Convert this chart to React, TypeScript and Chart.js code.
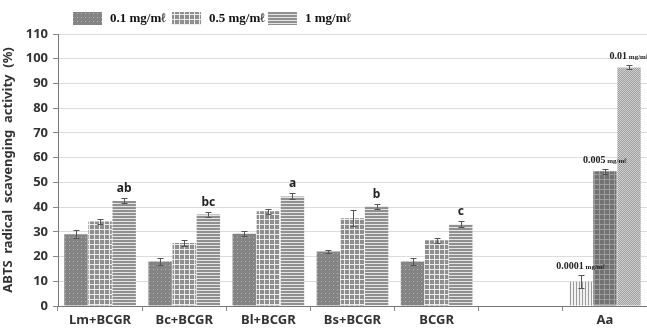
import React, { useEffect, useRef } from "react";
import { Chart, registerables } from "chart.js";
Chart.register(...registerables);

const categories = ["Lm+BCGR", "Bc+BCGR", "Bl+BCGR", "Bs+BCGR", "BCGR", "", "Aa"];
const seriesNames = ["0.1 mg/mℓ", "0.5 mg/mℓ", "1 mg/mℓ"];
const values01 = [29, 18, 29.2, 22, 18, null, 9.8];
const values05 = [34.2, 25.5, 38.3, 35.5, 26.6, null, 54.5];
const values1 = [42.5, 37, 44.3, 40.3, 33, null, 96.5];
const errors01 = [1.7, 1.5, 1, 0.7, 1.5, 0, 2.6];
const errors05 = [1, 1.2, 1, 3.3, 1, 0, 1];
const errors1 = [1, 1, 1.2, 1, 1.2, 0, 0.8];
const letters = ["ab", "bc", "a", "b", "c", "", ""];
const aaLabels = ["0.0001", "0.005", "0.01"];

function makePattern(w: number, h: number, draw: (c: CanvasRenderingContext2D) => void) {
  const cv = document.createElement("canvas");
  cv.width = w;
  cv.height = h;
  const c = cv.getContext("2d")!;
  draw(c);
  return c.createPattern(cv, "repeat")!;
}

export default function App() {
  const ref = useRef<HTMLCanvasElement>(null);
  useEffect(() => {
    const pDots = makePattern(4, 4, (c) => {
      c.fillStyle = "#848484";
      c.fillRect(0, 0, 4, 4);
      c.fillStyle = "#b8b8b8";
      c.fillRect(1, 1, 1, 1);
    });
    const pGrid = makePattern(5, 5, (c) => {
      c.fillStyle = "#8e8e8e";
      c.fillRect(0, 0, 5, 5);
      c.fillStyle = "#ececec";
      c.fillRect(4, 0, 1, 5);
      c.fillRect(0, 4, 5, 1);
    });
    const pH = makePattern(1, 3, (c) => {
      c.fillStyle = "#909090";
      c.fillRect(0, 0, 1, 2);
      c.fillStyle = "#e4e4e4";
      c.fillRect(0, 2, 1, 1);
    });
    const pV = makePattern(3, 1, (c) => {
      c.fillStyle = "#f2f2f2";
      c.fillRect(0, 0, 3, 1);
      c.fillStyle = "#9a9a9a";
      c.fillRect(0, 0, 1, 1);
    });
    const pGridDark = makePattern(5, 5, (c) => {
      c.fillStyle = "#727272";
      c.fillRect(0, 0, 5, 5);
      c.fillStyle = "#9c9c9c";
      c.fillRect(4, 0, 1, 5);
      c.fillRect(0, 4, 5, 1);
    });
    const pCheck = makePattern(2, 2, (c) => {
      c.fillStyle = "#a0a0a0";
      c.fillRect(0, 0, 2, 2);
      c.fillStyle = "#cfcfcf";
      c.fillRect(0, 0, 1, 1);
      c.fillRect(1, 1, 1, 1);
    });
    const basePatterns = [pDots, pGrid, pH];
    const aaPatterns = [pV, pGridDark, pCheck];
    const allValues = [values01, values05, values1];
    const allErrors = [errors01, errors05, errors1];

    const datasets = allValues.map((vals, i) => ({
      label: seriesNames[i],
      data: vals,
      backgroundColor: categories.map((c) => (c === "Aa" ? aaPatterns[i] : basePatterns[i])),
      borderWidth: 0,
      barPercentage: 0.97,
      categoryPercentage: 0.86,
    }));

    const extras = {
      id: "extras",
      afterDatasetsDraw(chart: any) {
        const ctx = chart.ctx;
        const y = chart.scales.y;
        ctx.save();
        ctx.strokeStyle = "#555";
        ctx.lineWidth = 1;
        for (let d = 0; d < 3; d++) {
          const meta = chart.getDatasetMeta(d);
          meta.data.forEach((bar: any, i: number) => {
            const v = allValues[d][i];
            if (v == null) return;
            const e = allErrors[d][i];
            const x = Math.round(bar.x) + 0.5;
            const y1 = Math.round(y.getPixelForValue(v + e)) + 0.5;
            const y0 = Math.round(y.getPixelForValue(v - e)) + 0.5;
            ctx.beginPath();
            ctx.moveTo(x, y0);
            ctx.lineTo(x, y1);
            ctx.moveTo(x - 3, y1);
            ctx.lineTo(x + 3, y1);
            ctx.moveTo(x - 3, y0);
            ctx.lineTo(x + 3, y0);
            ctx.stroke();
          });
        }
        ctx.fillStyle = "#222";
        ctx.textAlign = "center";
        ctx.textBaseline = "alphabetic";
        ctx.font = "bold 12px 'Noto Sans', sans-serif";
        const meta2 = chart.getDatasetMeta(2);
        letters.forEach((l, i) => {
          if (!l) return;
          const bar = meta2.data[i];
          const top = y.getPixelForValue(values1[i] + errors1[i]);
          ctx.fillText(l, bar.x, top - 6);
        });
        const aaIdx = categories.indexOf("Aa");
        for (let d = 0; d < 3; d++) {
          const bar = chart.getDatasetMeta(d).data[aaIdx];
          const top = y.getPixelForValue(allValues[d][aaIdx] + allErrors[d][aaIdx]);
          ctx.font = "bold 10px 'Liberation Serif', serif";
          const a = aaLabels[d];
          const wa = ctx.measureText(a).width;
          ctx.font = "bold 7px 'Liberation Serif', serif";
          const b = " mg/mℓ";
          const wb = ctx.measureText(b).width;
          const start = bar.x - (wa + wb) / 2;
          ctx.textAlign = "left";
          ctx.font = "bold 10px 'Liberation Serif', serif";
          ctx.fillText(a, start, top - 6);
          ctx.font = "bold 7px 'Liberation Serif', serif";
          ctx.fillText(b, start + wa, top - 6);
        }
        ctx.restore();
      },
      afterDraw(chart: any) {
        const ctx = chart.ctx;
        ctx.save();
        const boxes = [73, 172, 268];
        ctx.font = "bold 13px 'Liberation Serif', serif";
        ctx.textBaseline = "middle";
        ctx.textAlign = "left";
        boxes.forEach((bx, i) => {
          ctx.fillStyle = basePatterns[i];
          ctx.fillRect(bx, 12, 29, 13);
          ctx.fillStyle = "#111";
          ctx.fillText(seriesNames[i], bx + 37, 19);
        });
        ctx.restore();
      },
    };

    const chart = new Chart(ref.current!, {
      type: "bar",
      data: { labels: categories, datasets },
      options: {
        animation: false,
        responsive: false,
        layout: { padding: { top: 34, right: 0, left: 0, bottom: 0 } },
        plugins: { legend: { display: false }, tooltip: { enabled: false } },
        scales: {
          x: {
            grid: { drawOnChartArea: false, drawTicks: true, tickLength: 5, color: "#888", offset: true },
            border: { color: "#777" },
            ticks: { color: "#333", font: { family: "'Noto Sans', sans-serif", size: 13, weight: "bold" }, padding: 1 },
            afterFit: (s: any) => { s.height = 23; },
          },
          y: {
            min: 0,
            max: 110,
            ticks: { stepSize: 10, color: "#333", font: { family: "'Noto Sans', sans-serif", size: 13, weight: "bold" }, padding: 5 },
            grid: { color: "#dcdcdc", tickLength: 5, tickColor: "#888" },
            border: { color: "#777" },
            title: {
              display: true,
              text: "ABTS  radical  scavenging  activity  (%)",
              color: "#333",
              font: { family: "'Noto Sans', sans-serif", size: 13, weight: "bold" },
              padding: 0,
            },
            afterFit: (s: any) => { s.width = 58; },
          },
        },
      },
      plugins: [extras],
    });
    return () => chart.destroy();
  }, []);
  return (
    <div style={{ position: "fixed", left: 0, top: 0, width: 647, height: 329, background: "#fff" }}>
      <canvas ref={ref} width={647} height={329} style={{ width: 647, height: 329 }} />
    </div>
  );
}
